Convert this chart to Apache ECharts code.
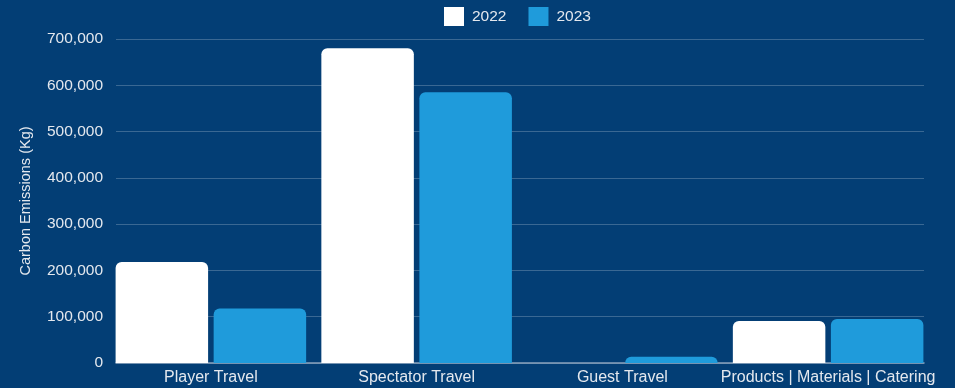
<!DOCTYPE html>
<html>
<head>
<meta charset="utf-8">
<script src="https://cdn.jsdelivr.net/npm/echarts@6/dist/echarts.min.js"></script>
<style>
html,body{margin:0;padding:0;background:#033e75;}
#chart{width:955px;height:388px;}
</style>
</head>
<body>
<div id="chart"></div>
<script>
const categories = ['Player Travel', 'Spectator Travel', 'Guest Travel', 'Products | Materials | Catering'];
const seriesNames = ['2022', '2023'];
const values2022 = [218000, 680000, 0, 91000];
const values2023 = [118000, 585000, 13600, 95000];
const yTicks = [0, 100000, 200000, 300000, 400000, 500000, 600000, 700000];
const yTitle = 'Carbon Emissions (Kg)';

const FONT = '"Liberation Sans", Arial, sans-serif';
const TXT = '#e4e8ee';
const yMin = yTicks[0], yMax = yTicks[yTicks.length - 1], yStep = yTicks[1] - yTicks[0];

const chart = echarts.init(document.getElementById('chart'), null, {renderer: 'canvas'});
chart.setOption({
  backgroundColor: '#033e75',
  animation: false,
  textStyle: {fontFamily: FONT},
  legend: {
    data: seriesNames,
    top: 2, left: 439,
    icon: 'rect', itemWidth: 20, itemHeight: 19, itemGap: 22,
    textStyle: {color: TXT, fontSize: 15.5, fontFamily: FONT, padding: [0, 0, 0, 3]}
  },
  grid: [
    {left: 108, right: 24, top: 39, bottom: 25, containLabel: false},
    {left: 116, right: 31, top: 39, bottom: 25, containLabel: false}
  ],
  xAxis: [
    {
      type: 'category', gridIndex: 0, data: categories,
      axisLine: {show: false}, axisTick: {show: false},
      axisLabel: {color: TXT, fontSize: 16, fontFamily: FONT, margin: 7, interval: 0}
    },
    {
      type: 'value', gridIndex: 1, min: 0, max: 1,
      axisLine: {show: true, lineStyle: {color: '#8aa3bd', width: 1.5}},
      axisTick: {show: false}, axisLabel: {show: false}, splitLine: {show: false}
    }
  ],
  yAxis: [
    {
      type: 'value', gridIndex: 0, min: yMin, max: yMax, interval: yStep, show: false
    },
    {
      type: 'value', gridIndex: 1, min: yMin, max: yMax, interval: yStep,
      name: yTitle, nameLocation: 'middle', nameRotate: 90, nameGap: 83,
      nameTextStyle: {color: TXT, fontSize: 14.5, fontFamily: FONT},
      axisLine: {show: false}, axisTick: {show: false},
      axisLabel: {color: TXT, fontSize: 15.5, fontFamily: FONT, margin: 13,
        formatter: v => v.toLocaleString('en-US')},
      splitLine: {show: true, lineStyle: {color: 'rgba(255,255,255,0.22)', width: 1}}
    }
  ],
  series: [
    {
      name: seriesNames[0], type: 'bar', xAxisIndex: 0, yAxisIndex: 0,
      data: values2022, barWidth: 92.5, barGap: '6%',
      itemStyle: {color: '#ffffff', borderRadius: [6, 6, 0, 0]}
    },
    {
      name: seriesNames[1], type: 'bar', xAxisIndex: 0, yAxisIndex: 0,
      data: values2023, barWidth: 92.5, barGap: '6%',
      itemStyle: {color: '#1f9bdb', borderRadius: [6, 6, 0, 0]}
    }
  ]
});
</script>
</body>
</html>
